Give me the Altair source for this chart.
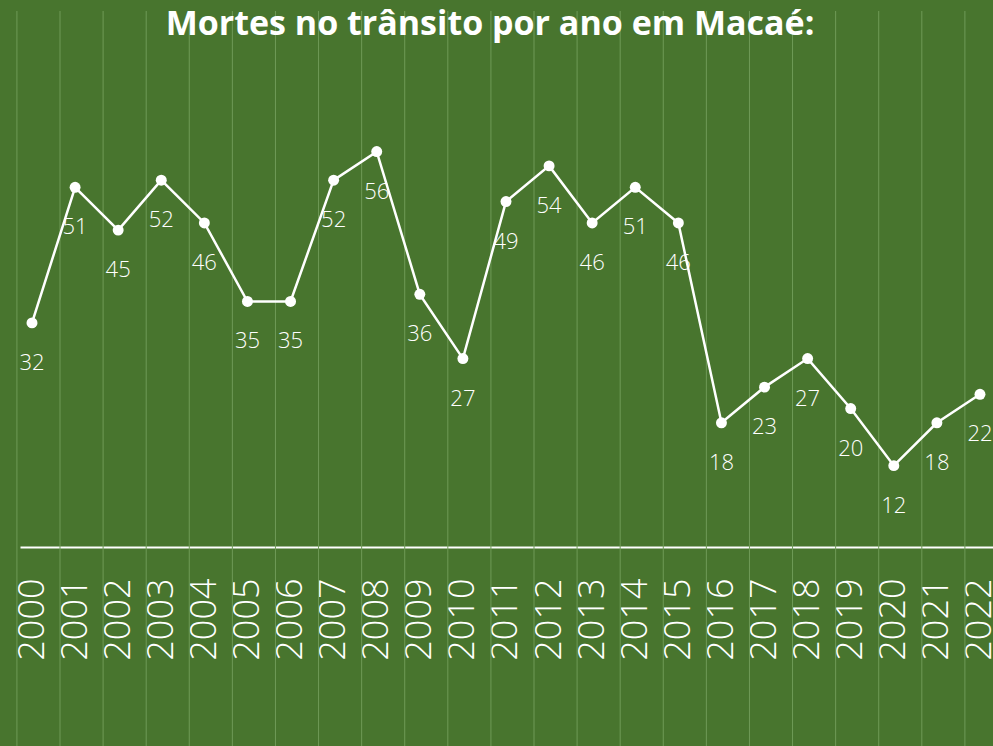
import altair as alt
import pandas as pd

years = list(range(2000, 2023))
deaths = [32, 51, 45, 52, 46, 35, 35, 52, 56, 36, 27, 49, 54, 46, 51, 46, 18, 23, 27, 20, 12, 18, 22]
title_text = "Mortes no trânsito por ano em Macaé:"

BG = "#48752e"
GRID = "#6f9a57"
FONT = "Open Sans"

df = pd.DataFrame({"year": years, "deaths": deaths})
title_df = pd.DataFrame({"t": [title_text]})

xscale = alt.Scale(domain=[1999.7215, 2022.302], nice=False, zero=False)
yscale = alt.Scale(domain=[0.6, 75.7], nice=False, zero=False)

xaxis = alt.Axis(
    values=years,
    format="d",
    title=None,
    labelAngle=270,
    labelAlign="right",
    labelBaseline="middle",
    labelFontSize=36,
    labelFont=FONT,
    labelFontWeight=300,
    labelColor="white",
    labelPadding=31,
    labelOverlap=False,
    labelFlush=False,
    grid=False,
    ticks=False,
    domainColor="white",
    domainWidth=2,
)

base = alt.Chart(df)

grid = base.transform_calculate(gx="datum.year - 0.35").mark_rule(
    color=GRID, strokeWidth=1
).encode(
    x=alt.X("gx:Q", scale=xscale, axis=xaxis),
    y=alt.value(0),
    y2=alt.value(735),
)

line = base.mark_line(color="white", strokeWidth=2.5).encode(
    x=alt.X("year:Q", scale=xscale, axis=xaxis),
    y=alt.Y("deaths:Q", scale=yscale, axis=None),
)

points = base.mark_circle(color="white", opacity=1, size=120).encode(
    x=alt.X("year:Q", scale=xscale, axis=xaxis),
    y=alt.Y("deaths:Q", scale=yscale, axis=None),
)

labels = base.mark_text(
    color="white", fontSize=22, font=FONT, fontWeight=300, dy=40, baseline="middle"
).encode(
    x=alt.X("year:Q", scale=xscale, axis=xaxis),
    y=alt.Y("deaths:Q", scale=yscale, axis=None),
    text=alt.Text("deaths:Q"),
)

title = alt.Chart(title_df).mark_text(
    color="white", fontSize=34, font=FONT, fontWeight="bold",
    align="center", baseline="alphabetic",
).encode(
    text="t:N",
    x=alt.value(470),
    y=alt.value(24),
)

chart = (
    alt.layer(grid, line, points, labels, title)
    .properties(
        width=973,
        height=536,
        background=BG,
        padding={"left": 20, "top": 11, "right": 0, "bottom": 199},
        autosize=alt.AutoSizeParams(type="none"),
    )
    .configure_view(stroke=None)
)

chart.save("out.html", embed_options={"renderer": "svg", "actions": False})
